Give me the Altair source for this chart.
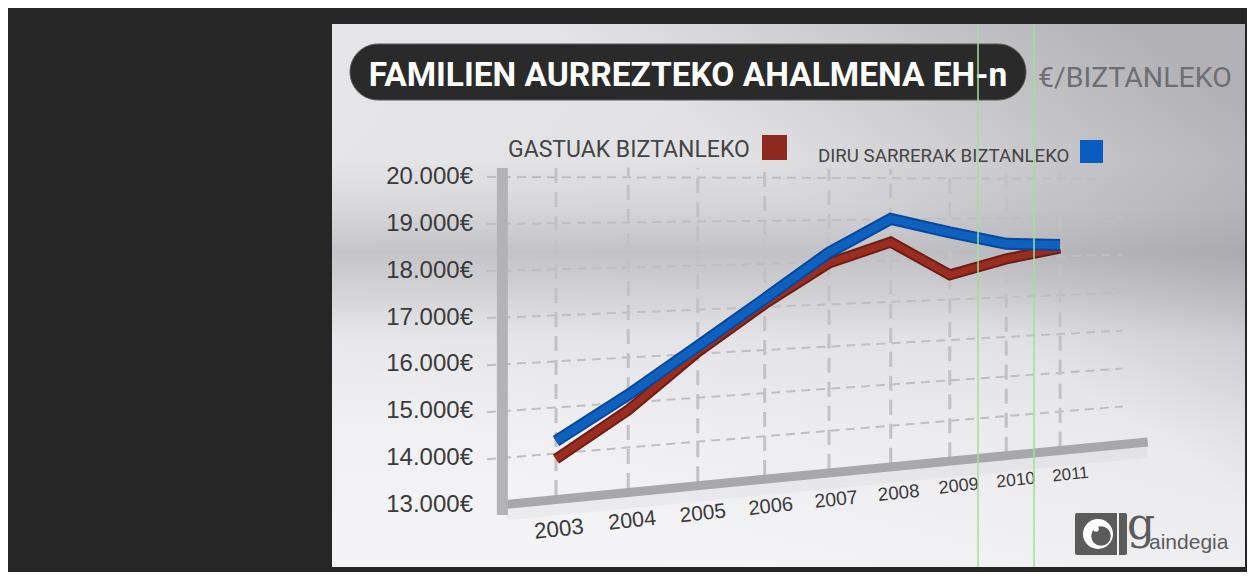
import altair as alt
import pandas as pd

# ---------------- data ----------------
years = [2003, 2004, 2005, 2006, 2007, 2008, 2009, 2010, 2011]
gastuak = [13880, 14830, 16040, 17070, 17980, 18450, 17610, 17970, 18210]
diru_sarrerak = [14270, 15170, 16170, 17190, 18230, 19010, 18660, 18350, 18290]
y_ticks = [13000, 14000, 15000, 16000, 17000, 18000, 19000, 20000]
y_tick_labels = ["13.000€", "14.000€", "15.000€", "16.000€", "17.000€", "18.000€", "19.000€", "20.000€"]
year_labels = ["2003", "2004", "2005", "2006", "2007", "2008", "2009", "2010", "2011"]
series_names = ["GASTUAK BIZTANLEKO", "DIRU SARRERAK BIZTANLEKO"]
title_text = "FAMILIEN AURREZTEKO AHALMENA EH-n"
unit_text = "€/BIZTANLEKO"
logo_g = "g"
logo_rest = "aindegia"

W, H = 1239, 564
COND = "Roboto, Liberation Sans, sans-serif"
SANS = "Liberation Sans, Arial, Helvetica, sans-serif"

xs = alt.Scale(domain=[-7.456, 9.401], nice=False, zero=False)
ys = alt.Scale(domain=[11.5701, 23.6067], nice=False, zero=False)
X = alt.X("xp:Q", scale=xs, axis=None)
Y = alt.Y("yp:Q", scale=ys, axis=None)


def from_year(ch):
    return ch.transform_calculate(i="datum.year - 2003").transform_calculate(
        xp="datum.i - 0.01785*datum.i*datum.i"
    )


def project(ch):
    # simple perspective: depth grows to the right, grid converges to a horizon
    return (
        ch.transform_calculate(u="(56 + 73.5*datum.xp)/560")
        .transform_calculate(k="1 - 0.171*datum.u")
        .transform_calculate(yp="19.8 + (datum.value/1000 - 19.8)*datum.k")
    )


one = pd.DataFrame({"a": [0]})

# ---------------- background panel ----------------
panel = alt.Chart(one).mark_rect(
    fill=alt.Gradient(
        gradient="linear", x1=0, y1=0, x2=0, y2=1,
        stops=[
            alt.GradientStop(offset=0, color="#ebebee"),
            alt.GradientStop(offset=0.25, color="#e8e8eb"),
            alt.GradientStop(offset=0.34, color="#dadadd"),
            alt.GradientStop(offset=0.42, color="#c6c6ca"),
            alt.GradientStop(offset=0.50, color="#d6d6d9"),
            alt.GradientStop(offset=0.58, color="#e8e8ec"),
            alt.GradientStop(offset=0.75, color="#f1f1f4"),
            alt.GradientStop(offset=1, color="#f5f5f8"),
        ],
    )
).encode(x=alt.value(324), x2=alt.value(1237), y=alt.value(16), y2=alt.value(559))

shade = alt.Chart(one).mark_rect(
    fill=alt.Gradient(
        gradient="linear", x1=0.2, y1=0.85, x2=1, y2=0.15,
        stops=[
            alt.GradientStop(offset=0, color="rgba(100,100,106,0)"),
            alt.GradientStop(offset=0.55, color="rgba(100,100,106,0.05)"),
            alt.GradientStop(offset=1, color="rgba(100,100,106,0.42)"),
        ],
    )
).encode(x=alt.value(324), x2=alt.value(1237), y=alt.value(16), y2=alt.value(559))

# ---------------- grid ----------------
hgrid_df = pd.DataFrame(
    [{"value": v, "xp": e} for v in y_ticks[1:] for e in (-0.94, 7.71)]
)
hgrid = project(alt.Chart(hgrid_df)).mark_line(
    color="#bfbfc3", strokeWidth=2, strokeDash=[9, 6]
).encode(x=X, y=Y, detail="value:Q")

vgrid_df = pd.DataFrame(
    [{"year": yr, "value": v} for yr in years for v in (13100, 20220)]
)
vgrid = project(from_year(alt.Chart(vgrid_df))).mark_line(
    color="#c2c2c6", strokeWidth=3, strokeDash=[15, 9]
).encode(x=X, y=Y, detail="year:Q")

floor_df = pd.DataFrame({"value": [13000, 13000], "xp": [-0.68, 8.05]})
floor_shadow = project(alt.Chart(floor_df)).mark_line(
    color="#000000", opacity=0.03, strokeWidth=14
).encode(x=X, y=Y, yOffset=alt.value(9))
floor = project(alt.Chart(floor_df)).mark_line(
    color="#a8a8ac", strokeWidth=9, strokeCap="butt"
).encode(x=X, y=Y)

wall_df = pd.DataFrame({"value": [12780, 20190], "xp": [-0.73, -0.73]})
wall = project(alt.Chart(wall_df)).mark_line(
    color="#b3b3b7", strokeWidth=11, strokeCap="butt"
).encode(x=X, y=Y)

# ---------------- data lines ----------------
rows = []
for yr, g, d in zip(years, gastuak, diru_sarrerak):
    rows.append({"year": yr, "value": g, "serie": series_names[0]})
    rows.append({"year": yr, "value": d, "serie": series_names[1]})
lines_df = pd.DataFrame(rows)


def series_line(name, outer, inner, w_out, w_in):
    base = project(from_year(alt.Chart(lines_df))).transform_filter(
        alt.datum.serie == name
    )
    o = base.mark_line(color=outer, strokeWidth=w_out, strokeJoin="miter", strokeCap="butt").encode(
        x=X, y=Y, order="year:Q"
    )
    i = base.mark_line(color=inner, strokeWidth=w_in, strokeJoin="miter", strokeCap="butt").encode(
        x=X, y=Y, order="year:Q"
    )
    return o + i


red_line = series_line(series_names[0], "#6c1d15", "#9a2d20", 11, 7)
blue_line = series_line(series_names[1], "#08489a", "#0f61c0", 12, 8)

# ---------------- axis labels ----------------
ylab_df = pd.DataFrame({"value": y_ticks, "lab": y_tick_labels})
ylabels = (
    alt.Chart(ylab_df)
    .transform_calculate(yp="datum.value/1000")
    .mark_text(align="right", baseline="middle", font=SANS, fontSize=24, color="#3a3a3a")
    .encode(x=alt.value(465), y=Y, text="lab:N")
)

xlab_df = pd.DataFrame({"year": years, "lab": year_labels, "value": [12350] * len(years)})
xlabels = (
    from_year(alt.Chart(xlab_df))
    .transform_calculate(xq="datum.xp*1.015 + 0.04")
    .transform_calculate(u="(56 + 73.5*datum.xq)/560")
    .transform_calculate(k="1 - 0.171*datum.u")
    .transform_calculate(yp="19.8 + (datum.value/1000 - 19.8)*datum.k")
    .transform_calculate(fs="23*(1 - 0.26*datum.u)")
    .mark_text(align="center", baseline="middle", font=SANS, angle=354, color="#3a3a3a")
    .encode(
        x=alt.X("xq:Q", scale=xs, axis=None),
        y=Y,
        text="lab:N",
        size=alt.Size("fs:Q", scale=None, legend=None),
    )
)

# ---------------- title & legend ----------------
pill = alt.Chart(one).mark_rect(color="#2a2a2a", cornerRadius=28, stroke="#5a5a5a", strokeWidth=1).encode(
    x=alt.value(342), x2=alt.value(1018), y=alt.value(36), y2=alt.value(92)
)
title = alt.Chart(one).mark_text(
    text=title_text, font=COND, fontWeight="bold", fontSize=33.5, color="#ffffff",
    align="center", baseline="alphabetic"
).encode(x=alt.value(680), y=alt.value(78))
unit = alt.Chart(one).mark_text(
    text=unit_text, font=COND, fontSize=28.5, color="#6e6e72", align="left", baseline="alphabetic"
).encode(x=alt.value(1030), y=alt.value(79))

leg1 = alt.Chart(one).mark_text(
    text=series_names[0], font=COND, fontSize=23, color="#444444", align="left", baseline="alphabetic"
).encode(x=alt.value(500), y=alt.value(149))
leg1sq = alt.Chart(one).mark_rect(color="#8c2a20").encode(
    x=alt.value(754), x2=alt.value(779), y=alt.value(127), y2=alt.value(152)
)
leg2 = alt.Chart(one).mark_text(
    text=series_names[1], font=COND, fontSize=18.7, color="#444444", align="left", baseline="alphabetic"
).encode(x=alt.value(810), y=alt.value(154))
leg2sq = alt.Chart(one).mark_rect(color="#0a5cc0").encode(
    x=alt.value(1072), x2=alt.value(1095), y=alt.value(132), y2=alt.value(155)
)

# ---------------- logo ----------------
logo_box = alt.Chart(one).mark_rect(color="#5b5b5b", cornerRadius=2).encode(
    x=alt.value(1067), x2=alt.value(1119), y=alt.value(505), y2=alt.value(547)
)
logo_c1 = alt.Chart(one).mark_point(filled=True, color="#ffffff", opacity=1, size=900, shape="circle").encode(
    x=alt.value(1090), y=alt.value(526)
)
logo_c2 = alt.Chart(one).mark_point(filled=True, color="#5b5b5b", opacity=1, size=380, shape="circle").encode(
    x=alt.value(1093), y=alt.value(528)
)
logo_c3 = alt.Chart(one).mark_point(filled=True, color="#ffffff", opacity=1, size=30, shape="circle").encode(
    x=alt.value(1088), y=alt.value(521)
)
logo_gap = alt.Chart(one).mark_rect(color="#f4f4f6").encode(
    x=alt.value(1109), x2=alt.value(1111), y=alt.value(505), y2=alt.value(547)
)
logo_t1 = alt.Chart(one).mark_text(
    text=logo_g, font="DejaVu Serif", fontSize=44, color="#5b5b5b", align="left", baseline="alphabetic"
).encode(x=alt.value(1119), y=alt.value(531))
logo_t2 = alt.Chart(one).mark_text(
    text=logo_rest, font=SANS, fontSize=21, color="#5b5b5b", align="left", baseline="alphabetic"
).encode(x=alt.value(1141), y=alt.value(541))

# ---------------- video artefact lines ----------------
green1 = alt.Chart(one).mark_rule(color="#9fe09a", strokeWidth=1.5).encode(
    x=alt.value(970), y=alt.value(16), y2=alt.value(559)
)
green2 = alt.Chart(one).mark_rule(color="#9fe09a", strokeWidth=1.5).encode(
    x=alt.value(1026), y=alt.value(16), y2=alt.value(559)
)

chart = alt.layer(
    panel, shade, hgrid, vgrid, floor_shadow, floor, wall,
    red_line, blue_line, ylabels, xlabels,
    pill, title, unit, leg1, leg1sq, leg2, leg2sq,
    logo_box, logo_c1, logo_c2, logo_c3, logo_gap, logo_t1, logo_t2,
    green1, green2,
).properties(
    width=W, height=H, padding=0,
    autosize=alt.AutoSizeParams(type="none"),
    background="#262626",
).configure_view(stroke=None)

chart.save("out.html", embed_options={"renderer": "svg", "actions": False})
